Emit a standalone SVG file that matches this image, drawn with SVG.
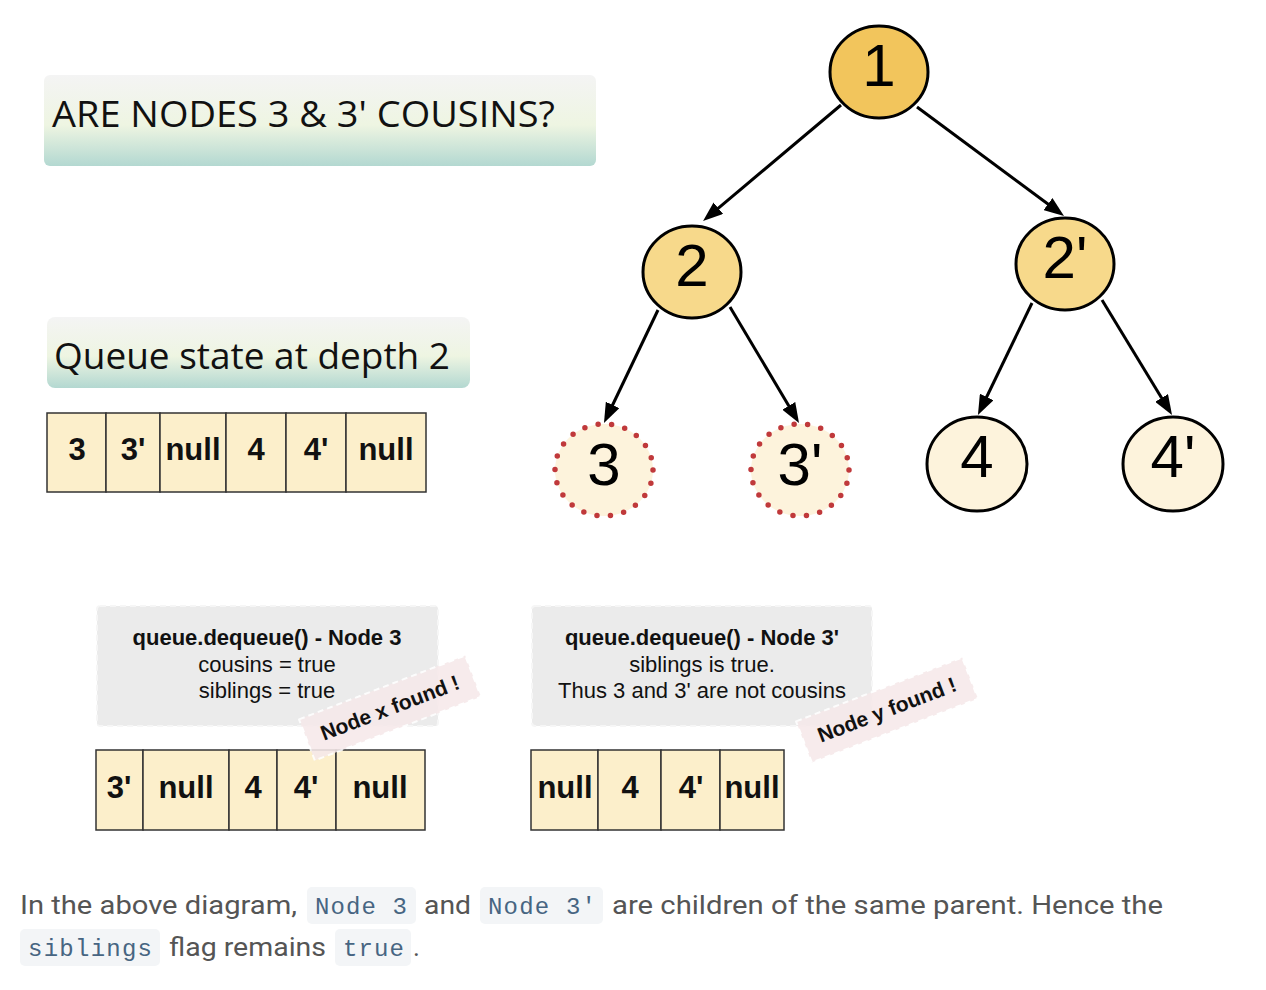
<svg xmlns="http://www.w3.org/2000/svg" width="1266" height="990" viewBox="0 0 1266 990">
<defs>
<linearGradient id="tg" x1="0" y1="0" x2="0" y2="1">
<stop offset="0" stop-color="#f4f4f4"/>
<stop offset="0.55" stop-color="#eef5e2"/>
<stop offset="1" stop-color="#b3d8d1"/>
</linearGradient>
<marker id="ah" markerUnits="userSpaceOnUse" markerWidth="20" markerHeight="15" refX="10" refY="7.5" orient="auto">
<path d="M0,0 L20,7.5 L0,15 z" fill="#000"/>
</marker>
<style>
.title{font-family:"Open Sans","Noto Sans",sans-serif;font-size:37px;fill:#111}
.cell{fill:#fcefcb;stroke:#333;stroke-width:1.5}
.qt{font-family:"Liberation Sans",Arial,sans-serif;font-weight:bold;font-size:31px;fill:#111;text-anchor:middle}
.nl{font-family:"Liberation Sans",Arial,sans-serif;font-size:60px;fill:#000;text-anchor:middle}
.solid{stroke:#000;stroke-width:3}
.dot{stroke:#c0393b;stroke-width:5.5;stroke-linecap:round;stroke-dasharray:0 13.6}
.edge{stroke:#000;stroke-width:3;fill:none;marker-end:url(#ah)}
.gbox{fill:#ebebeb;stroke:#f6f6f6;stroke-width:2;stroke-dasharray:6 4}
.gb{font-family:"Liberation Sans",Arial,sans-serif;font-weight:bold;font-size:22px;fill:#111;text-anchor:middle}
.gt{font-family:"Liberation Sans",Arial,sans-serif;font-size:22px;fill:#111;text-anchor:middle}
.tag{fill:#f6e9ea;opacity:0.88;stroke:#ffffff;stroke-width:2;stroke-dasharray:6 4}
.tagt{font-family:"Liberation Sans",Arial,sans-serif;font-weight:bold;font-size:21px;fill:#111;text-anchor:middle}
.body{font-family:Roboto,"Liberation Sans",sans-serif;font-size:26px;fill:#555}
.code{fill:#f3f5f7}
.mono{font-family:"Liberation Mono","DejaVu Sans Mono",monospace;font-size:24px;fill:#476582}
</style>
</defs>

<g id="title1">
<rect x="44" y="75" width="552" height="91" rx="6" fill="url(#tg)"/>
<text class="title" x="52" y="127" textLength="503" lengthAdjust="spacingAndGlyphs">ARE NODES 3 &amp; 3' COUSINS?</text>
</g>

<g id="title2">
<rect x="47" y="317" width="423" height="71" rx="8" fill="url(#tg)"/>
<text class="title" x="54" y="369" textLength="396" lengthAdjust="spacingAndGlyphs">Queue state at depth 2</text>
</g>

<g id="queue1">
<rect class="cell" x="47" y="413" width="59" height="79"/>
<rect class="cell" x="106" y="413" width="54" height="79"/>
<rect class="cell" x="160" y="413" width="66" height="79"/>
<rect class="cell" x="226" y="413" width="60" height="79"/>
<rect class="cell" x="286" y="413" width="60" height="79"/>
<rect class="cell" x="346" y="413" width="80" height="79"/>
<text class="qt" x="77" y="460">3</text>
<text class="qt" x="133" y="460">3'</text>
<text class="qt" x="193" y="460">null</text>
<text class="qt" x="256" y="460">4</text>
<text class="qt" x="316" y="460">4'</text>
<text class="qt" x="386" y="460">null</text>
</g>

<g id="connectors">
<line class="edge" x1="841" y1="105" x2="710.7" y2="214.6"/>
<line class="edge" x1="917" y1="107" x2="1056" y2="210"/>
<line class="edge" x1="658" y1="310" x2="608.3" y2="414"/>
<line class="edge" x1="730" y1="307" x2="793.9" y2="414.4"/>
<line class="edge" x1="1032" y1="303" x2="982.3" y2="406"/>
<line class="edge" x1="1102" y1="300" x2="1166.8" y2="406.5"/>
</g>

<g id="node1">
<ellipse class="solid" cx="879" cy="72" rx="49" ry="46" fill="#f2c55c"/>
<text class="nl" x="879" y="86">1</text>
</g>
<g id="node2">
<ellipse class="solid" cx="692" cy="272" rx="49" ry="46" fill="#f7d98b"/>
<text class="nl" x="692" y="286">2</text>
</g>
<g id="node2p">
<ellipse class="solid" cx="1065" cy="264" rx="49" ry="46" fill="#f7d98b"/>
<text class="nl" x="1065" y="278">2'</text>
</g>
<g id="node3">
<ellipse cx="604" cy="470" rx="49" ry="46" fill="#fdf3dc"/>
<ellipse class="dot" cx="604" cy="470" rx="49" ry="46" fill="none"/>
<text class="nl" x="604" y="485">3</text>
</g>
<g id="node3p">
<ellipse cx="800" cy="470" rx="49" ry="46" fill="#fdf3dc"/>
<ellipse class="dot" cx="800" cy="470" rx="49" ry="46" fill="none"/>
<text class="nl" x="800" y="485">3'</text>
</g>
<g id="node4">
<ellipse class="solid" cx="977" cy="464" rx="50" ry="47" fill="#fdf3dc"/>
<text class="nl" x="977" y="477">4</text>
</g>
<g id="node4p">
<ellipse class="solid" cx="1173" cy="464" rx="50" ry="47" fill="#fdf3dc"/>
<text class="nl" x="1173" y="477">4'</text>
</g>

<g id="step1">
<rect class="gbox" x="97" y="606" width="341" height="120" rx="3"/>
<text class="gb" x="267" y="645">queue.dequeue() - Node 3</text>
<text class="gt" x="267" y="672">cousins = true</text>
<text class="gt" x="267" y="698">siblings = true</text>
</g>

<g id="queue2">
<rect class="cell" x="96" y="750" width="47" height="80"/>
<rect class="cell" x="143" y="750" width="86" height="80"/>
<rect class="cell" x="229" y="750" width="48" height="80"/>
<rect class="cell" x="277" y="750" width="59" height="80"/>
<rect class="cell" x="336" y="750" width="89" height="80"/>
<text class="qt" x="119" y="798">3'</text>
<text class="qt" x="186" y="798">null</text>
<text class="qt" x="253" y="798">4</text>
<text class="qt" x="306" y="798">4'</text>
<text class="qt" x="380" y="798">null</text>
</g>

<g id="tagx" transform="translate(390,708) rotate(-21)">
<rect class="tag" x="-89" y="-22" width="178" height="44"/>
<text class="tagt" x="0" y="7">Node x found !</text>
</g>

<g id="step2">
<rect class="gbox" x="532" y="606" width="340" height="120" rx="3"/>
<text class="gb" x="702" y="645">queue.dequeue() - Node 3'</text>
<text class="gt" x="702" y="672">siblings is true.</text>
<text class="gt" x="702" y="698">Thus 3 and 3' are not cousins</text>
</g>

<g id="queue3">
<rect class="cell" x="531" y="750" width="67" height="80"/>
<rect class="cell" x="598" y="750" width="63" height="80"/>
<rect class="cell" x="661" y="750" width="59" height="80"/>
<rect class="cell" x="720" y="750" width="64" height="80"/>
<text class="qt" x="565" y="798">null</text>
<text class="qt" x="630" y="798">4</text>
<text class="qt" x="691" y="798">4'</text>
<text class="qt" x="752" y="798">null</text>
</g>

<g id="tagy" transform="translate(887,710) rotate(-21)">
<rect class="tag" x="-89" y="-22" width="178" height="44"/>
<text class="tagt" x="0" y="7">Node y found !</text>
</g>

<g id="caption">
<rect class="code" x="307" y="887" width="109" height="37" rx="5"/>
<rect class="code" x="480" y="887" width="123" height="37" rx="5"/>
<rect class="code" x="20" y="929" width="140" height="37" rx="5"/>
<rect class="code" x="335" y="929" width="76" height="37" rx="5"/>
<text class="body" x="20" y="914" textLength="277" lengthAdjust="spacingAndGlyphs">In the above diagram,</text>
<text class="mono" x="315" y="914" textLength="92">Node 3</text>
<text class="body" x="424" y="914" textLength="47" lengthAdjust="spacingAndGlyphs">and</text>
<text class="mono" x="488" y="914" textLength="108">Node 3'</text>
<text class="body" x="612" y="914" textLength="551" lengthAdjust="spacingAndGlyphs">are children of the same parent. Hence the</text>
<text class="mono" x="28" y="956" textLength="124">siblings</text>
<text class="body" x="169" y="956" textLength="157" lengthAdjust="spacingAndGlyphs">flag remains</text>
<text class="mono" x="343" y="956" textLength="61">true</text>
<text class="body" x="413" y="956">.</text>
</g>
</svg>
